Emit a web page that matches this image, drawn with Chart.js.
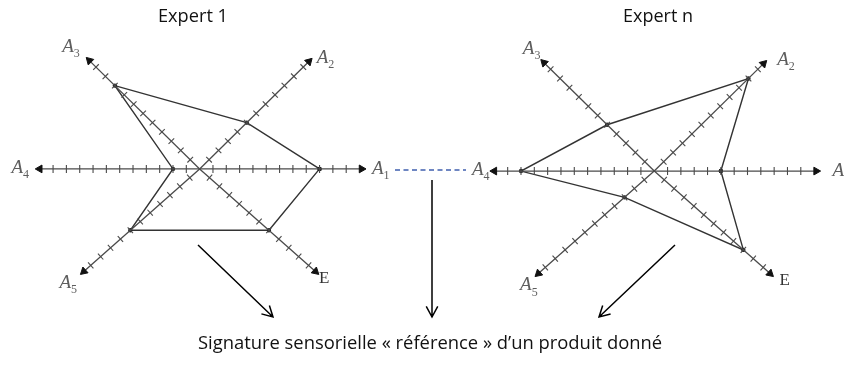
<!DOCTYPE html>
<html>
<head>
<meta charset="utf-8">
<script src="https://cdn.jsdelivr.net/npm/chart.js@4"></script>
<style>
  body { margin: 0; background: #fff; }
  #wrap { width: 844px; height: 365px; }
</style>
</head>
<body>
<div id="wrap"><canvas id="chart" width="844" height="365"></canvas></div>
<script>
// data (values = tick number on each axis)
const axisNames = ['A1', 'A2', 'A3', 'A4', 'A5', 'E'];
const expert1 = [9, 5, 9, 2, 7, 7];
const expertN = [5, 10, 5, 10, 3, 9];
const tickSteps = [1, 2, 3, 4, 5, 6, 7, 8, 9, 10, 11];
const titles = ['Expert 1', 'Expert n'];
const caption = 'Signature sensorielle « référence » d\u2019un produit donné';

// layout
const unit = 13.5;
const axisAngle = [0, 45, 135, 180, 222, 318];
const axisLen = [12.15, 11.6, 11.7, 12.0, 11.7, 11.7];
const panels = [
  { cx: 196.7, cy: 168.5, values: expert1, titleX: 193 },
  { cx: 657.3, cy: 170.7, values: expertN, titleX: 658 }
];
const labelOff = [[20, 2], [18, 2], [-14, -8], [-14.5, 1], [-11, 11], [10, 4]];

function pos(p, i, v) {
  const a = axisAngle[i] * Math.PI / 180;
  return { x: p.cx + v * unit * Math.cos(a), y: p.cy - v * unit * Math.sin(a) };
}

const datasets = [];
panels.forEach(p => {
  axisNames.forEach((name, i) => {
    datasets.push({
      data: [pos(p, i, 0), pos(p, i, axisLen[i])],
      showLine: true,
      borderColor: '#4a4a4a',
      borderWidth: 1.3,
      pointRadius: [0, 4.5],
      pointStyle: 'triangle',
      rotation: [0, 90 - axisAngle[i]],
      pointBackgroundColor: '#111',
      pointBorderColor: '#111',
      pointBorderWidth: 1,
      clip: false
    });
    datasets.push({
      data: tickSteps.map(v => pos(p, i, v)),
      showLine: false,
      pointStyle: 'line',
      rotation: -(axisAngle[i] + 90),
      pointRadius: 4,
      pointBorderColor: '#4a4a4a',
      pointBorderWidth: 1.1,
      clip: false
    });
  });
  datasets.push({
    data: p.values.concat([p.values[0]]).map((v, k) => pos(p, k % 6, v)),
    showLine: true,
    borderColor: '#333',
    borderWidth: 1.4,
    pointRadius: 1.5,
    pointBackgroundColor: '#222',
    pointBorderColor: '#222',
    clip: false
  });
});

function fitSize(ctx, text, family, targetW) {
  ctx.font = '20px ' + family;
  return 20 * targetW / ctx.measureText(text).width;
}

function openArrow(ctx, x1, y1, x2, y2) {
  const a = Math.atan2(y2 - y1, x2 - x1);
  ctx.beginPath();
  ctx.moveTo(x1, y1);
  ctx.lineTo(x2, y2);
  ctx.moveTo(x2 - 12 * Math.cos(a - 0.5), y2 - 12 * Math.sin(a - 0.5));
  ctx.lineTo(x2, y2);
  ctx.lineTo(x2 - 12 * Math.cos(a + 0.5), y2 - 12 * Math.sin(a + 0.5));
  ctx.stroke();
}

const decorations = {
  id: 'decorations',
  afterDraw(chart) {
    const ctx = chart.ctx;
    ctx.save();
    const sans = '"Open Sans", sans-serif';
    ctx.fillStyle = '#111';
    ctx.textAlign = 'center';
    ctx.textBaseline = 'middle';
    panels.forEach((p, k) => {
      const s = fitSize(ctx, titles[k], sans, 70);
      ctx.font = s.toFixed(1) + 'px ' + sans;
      ctx.fillText(titles[k], p.titleX, 17);

      // axis names
      axisNames.forEach((name, i) => {
        const tip = pos(p, i, axisLen[i]);
        const lx = tip.x + labelOff[i][0], ly = tip.y + labelOff[i][1];
        ctx.fillStyle = '#5e5e5e';
        if (name === 'E') {
          ctx.font = '17px "Liberation Serif", serif';
          ctx.textAlign = 'center';
          ctx.fillStyle = '#333';
          ctx.fillText('E', lx, ly);
        } else {
          ctx.font = 'italic 19px "Liberation Serif", serif';
          const wA = ctx.measureText('A').width;
          ctx.font = '12px "Liberation Serif", serif';
          const wS = ctx.measureText(name[1]).width;
          const x0 = lx - (wA + wS) / 2;
          ctx.textAlign = 'left';
          ctx.font = 'italic 19px "Liberation Serif", serif';
          ctx.fillText('A', x0, ly - 2);
          ctx.font = '12px "Liberation Serif", serif';
          ctx.fillText(name[1], x0 + wA, ly + 5);
        }
        ctx.textAlign = 'center';
        ctx.fillStyle = '#111';
      });
    });

    // link between the two panels
    ctx.strokeStyle = '#3f5fae';
    ctx.lineWidth = 1.3;
    ctx.setLineDash([5, 3.5]);
    ctx.beginPath();
    ctx.moveTo(395, 170);
    ctx.lineTo(466, 170);
    ctx.stroke();
    ctx.setLineDash([]);

    ctx.strokeStyle = '#000';
    ctx.lineWidth = 1.5;
    openArrow(ctx, 198, 245, 273, 317);
    openArrow(ctx, 432, 180, 432, 317);
    openArrow(ctx, 675, 245, 599, 317);

    const cs = fitSize(ctx, caption, sans, 464);
    ctx.font = cs.toFixed(1) + 'px ' + sans;
    ctx.fillStyle = '#111';
    ctx.textAlign = 'center';
    ctx.textBaseline = 'alphabetic';
    ctx.fillText(caption, 430, 349);
    ctx.restore();
  }
};

new Chart(document.getElementById('chart').getContext('2d'), {
  type: 'scatter',
  data: { datasets },
  options: {
    responsive: false,
    animation: false,
    layout: { padding: 0 },
    plugins: { legend: { display: false }, tooltip: { enabled: false } },
    scales: {
      x: { type: 'linear', min: 0, max: 844, display: false },
      y: { type: 'linear', min: 0, max: 365, reverse: true, display: false }
    }
  },
  plugins: [decorations]
});
</script>
</body>
</html>
